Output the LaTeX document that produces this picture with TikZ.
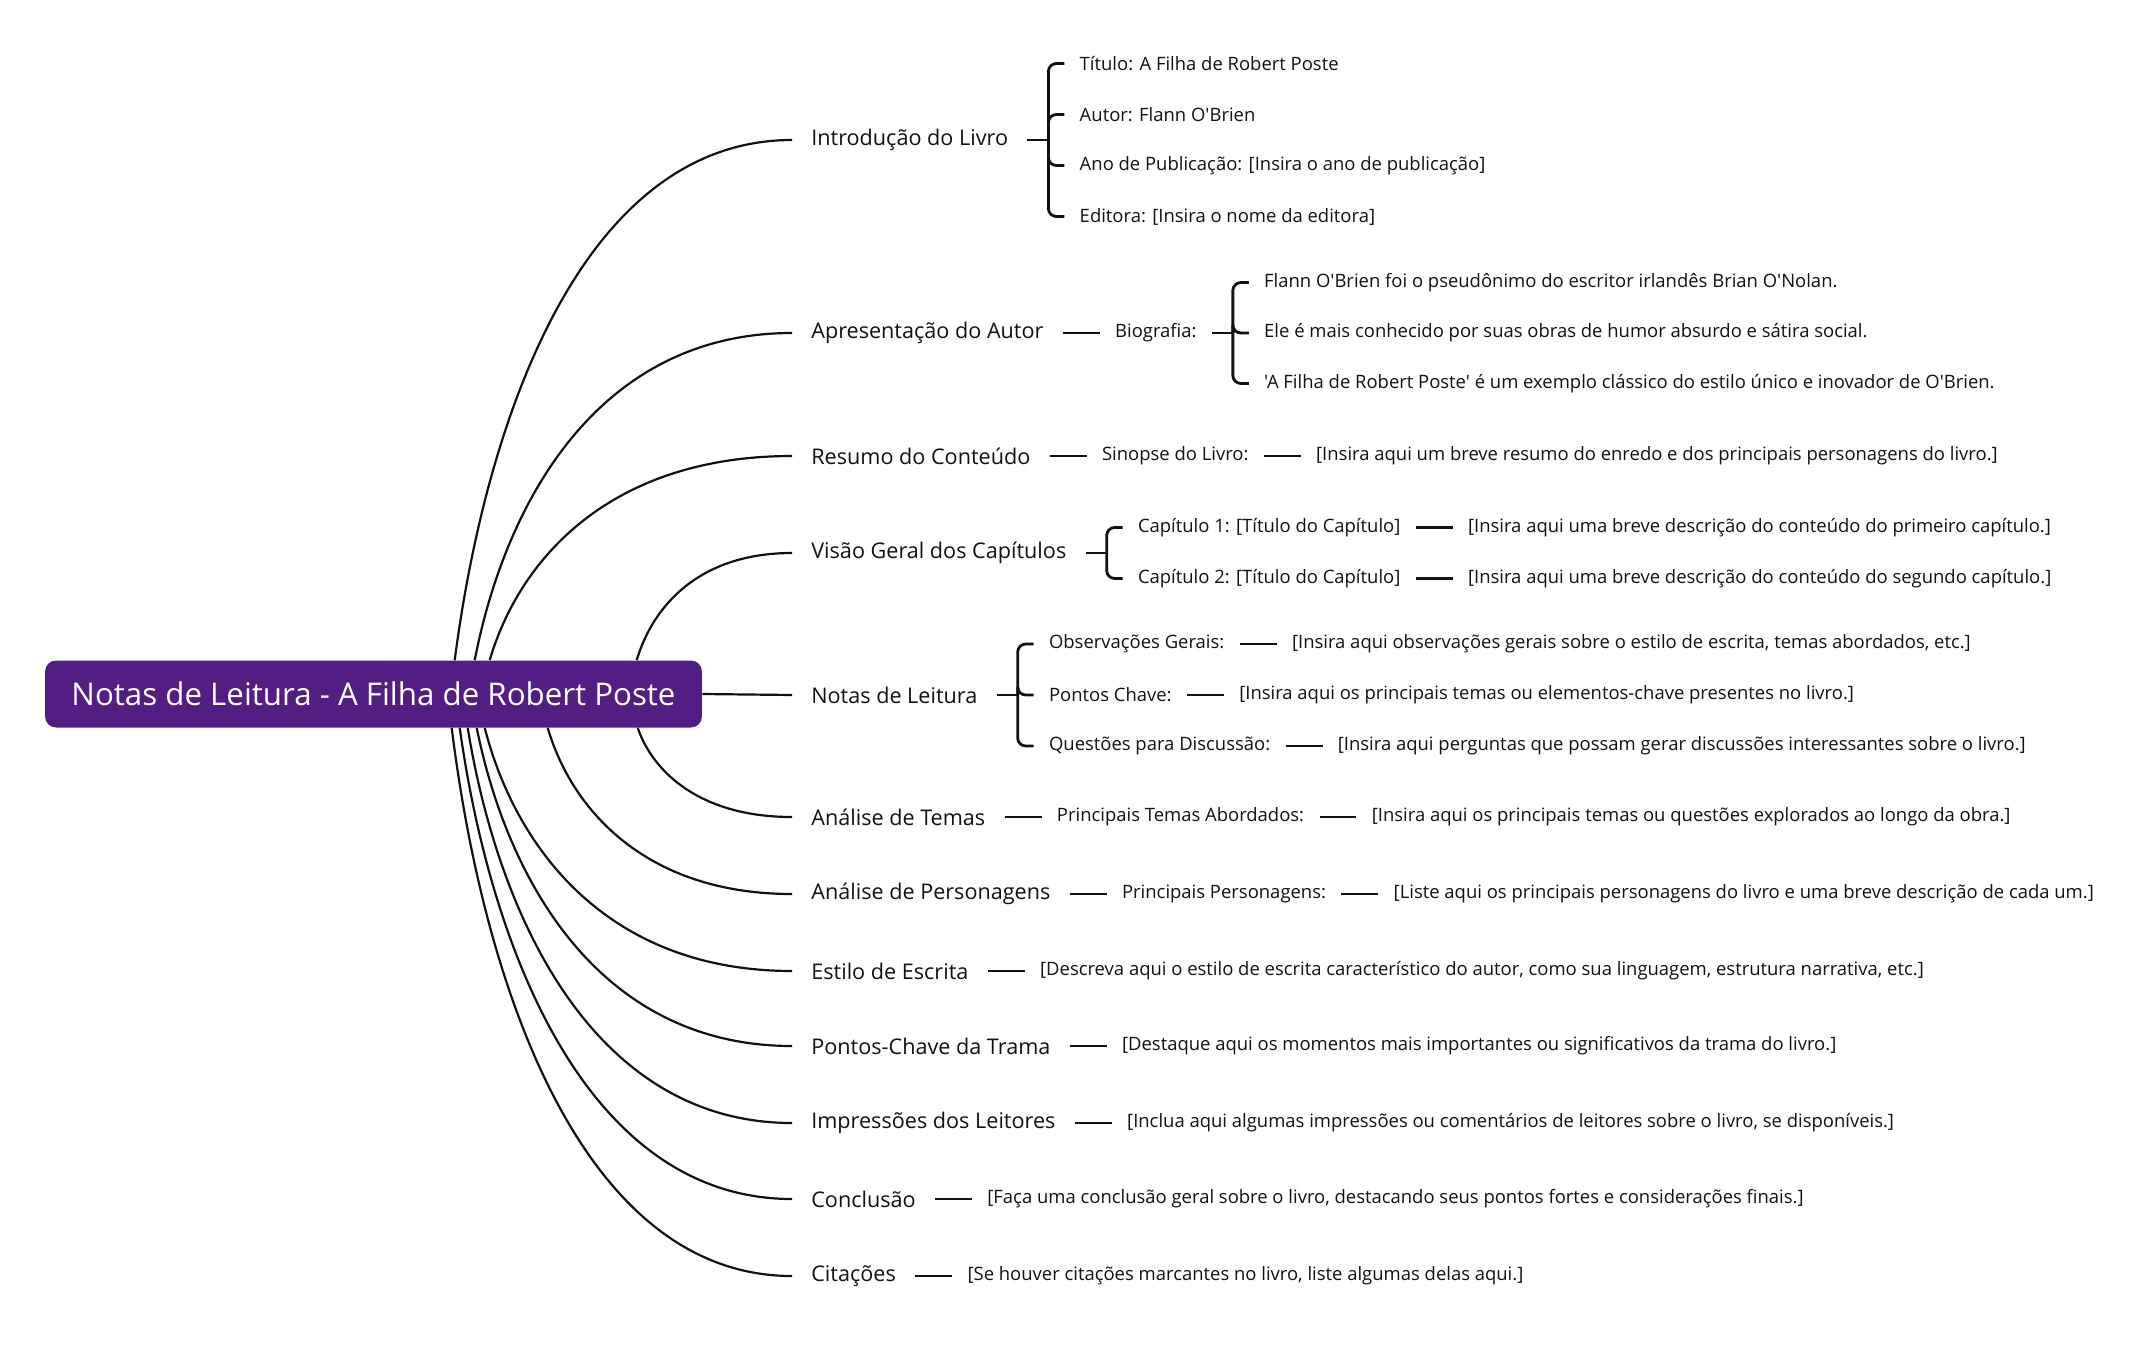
\documentclass[tikz,border=0pt]{standalone}
\usepackage{fontspec}
\setmainfont{Open Sans}[Ligatures=TeXOff]
\usepackage{tikz}
\usetikzlibrary{positioning, calc}
\definecolor{rootpurple}{HTML}{521E84}
\definecolor{inkblack}{HTML}{111111}

\begin{document}
\begin{tikzpicture}[
  x=0.02cm, y=-0.02cm,
  root/.style={rectangle, rounded corners=0.22cm, fill=rootpurple, text=white, minimum width=13.14cm, minimum height=1.34cm, font=\fontsize{17.8}{21}\selectfont},
  topic/.style={inner xsep=0.38cm, inner ysep=2pt, text=inkblack, font=\fontsize{12.3}{15}\selectfont},
  leaf/.style={inner xsep=0.3cm, inner ysep=2pt, text=inkblack, font=\fontsize{10.5}{13}\selectfont},
  branch/.style={line width=1.25pt, color=inkblack},
  link/.style={line width=1.6pt, color=inkblack},
  fork/.style={line width=1.6pt, color=inkblack, rounded corners=0.16cm},
  node distance=0.74cm,
]
\useasboundingbox (0,0) rectangle (2154,1359);

\node[root] (root) at (373.5,694) {Notas de Leitura - A Filha de Robert Poste};

% main topics
\node[topic, anchor=west] (intro) at (792,140) {Introdução do Livro};
\node[topic, anchor=west] (autor) at (792,333) {Apresentação do Autor};
\node[topic, anchor=west] (resumo) at (792,456) {Resumo do Conteúdo};
\node[topic, anchor=west] (capitulos) at (792,553) {Visão Geral dos Capítulos};
\node[topic, anchor=west] (notas) at (792,695) {Notas de Leitura};
\node[topic, anchor=west] (temas) at (792,817) {Análise de Temas};
\node[topic, anchor=west] (perso) at (792,894) {Análise de Personagens};
\node[topic, anchor=west] (estilo) at (792,971) {Estilo de Escrita};
\node[topic, anchor=west] (trama) at (792,1046) {Pontos-Chave da Trama};
\node[topic, anchor=west] (leitores) at (792,1123) {Impressões dos Leitores};
\node[topic, anchor=west] (conclusao) at (792,1199) {Conclusão};
\node[topic, anchor=west] (citacoes) at (792,1276) {Citações};

\draw[branch] ($(root.north west)+(410,0)$) .. controls +(34,-260) and +(-202,0) .. (intro.west);
\draw[branch] ($(root.north west)+(430,0)$) .. controls +(32,-164) and +(-190,0) .. (autor.west);
\draw[branch] ($(root.north west)+(445,0)$) .. controls +(30,-102) and +(-181,0) .. (resumo.west);
\draw[branch] ($(root.north west)+(592,0)$) .. controls +(16,-54) and +(-93,0) .. (capitulos.west);
\draw[branch] (root.east) -- (notas.west);
\draw[branch] ($(root.south west)+(593,0)$) .. controls +(15,44) and +(-92,0) .. (temas.west);
\draw[branch] ($(root.south west)+(503,0)$) .. controls +(24,82) and +(-146,0) .. (perso.west);
\draw[branch] ($(root.south west)+(440,0)$) .. controls +(31,121) and +(-184,0) .. (estilo.west);
\draw[branch] ($(root.south west)+(432,0)$) .. controls +(32,158) and +(-189,0) .. (trama.west);
\draw[branch] ($(root.south west)+(423,0)$) .. controls +(32,197) and +(-194,0) .. (leitores.west);
\draw[branch] ($(root.south west)+(415,0)$) .. controls +(33,235) and +(-199,0) .. (conclusao.west);
\draw[branch] ($(root.south west)+(407,0)$) .. controls +(34,274) and +(-204,0) .. (citacoes.west);

% Introdução do Livro
\node[leaf, right=of intro, yshift=1.53cm] (intro1) {Título: A Filha de Robert Poste};
\node[leaf, right=of intro, yshift=0.51cm] (intro2) {Autor: Flann O'Brien};
\node[leaf, right=of intro, yshift=-0.51cm] (intro3) {Ano de Publicação: [Insira o ano de publicação]};
\node[leaf, right=of intro, yshift=-1.53cm] (intro4) {Editora: [Insira o nome da editora]};
\draw[link] (intro.east) -- ++(21,0) coordinate (introfork);
\draw[fork] (introfork) |- (intro1.west);
\draw[fork] (introfork) |- (intro2.west);
\draw[fork] (introfork) |- (intro3.west);
\draw[fork] (introfork) |- (intro4.west);

% Apresentação do Autor
\node[leaf, right=of autor] (bio) {Biografia:};
\node[leaf, right=of bio, yshift=1.01cm] (bio1) {Flann O'Brien foi o pseudônimo do escritor irlandês Brian O'Nolan.};
\node[leaf, right=of bio] (bio2) {Ele é mais conhecido por suas obras de humor absurdo e sátira social.};
\node[leaf, right=of bio, yshift=-1.01cm] (bio3) {'A Filha de Robert Poste' é um exemplo clássico do estilo único e inovador de O'Brien.};
\draw[link] (autor.east) -- (bio.west);
\draw[link] (bio.east) -- ++(21,0) coordinate (biofork);
\draw[fork] (biofork) |- (bio1.west);
\draw[fork] (biofork) |- (bio2.west);
\draw[fork] (biofork) |- (bio3.west);

% Resumo do Conteúdo
\node[leaf, right=of resumo] (sinopse) {Sinopse do Livro:};
\node[leaf, right=of sinopse] (sinopse1) {[Insira aqui um breve resumo do enredo e dos principais personagens do livro.]};
\draw[link] (resumo.east) -- (sinopse.west);
\draw[link] (sinopse.east) -- (sinopse1.west);

% Visão Geral dos Capítulos
\node[leaf, right=of capitulos, yshift=0.51cm] (cap1) {Capítulo 1: [Título do Capítulo]};
\node[leaf, right=of capitulos, yshift=-0.51cm] (cap2) {Capítulo 2: [Título do Capítulo]};
\node[leaf, right=of cap1] (cap1d) {[Insira aqui uma breve descrição do conteúdo do primeiro capítulo.]};
\node[leaf, right=of cap2] (cap2d) {[Insira aqui uma breve descrição do conteúdo do segundo capítulo.]};
\draw[link] (capitulos.east) -- ++(21,0) coordinate (capfork);
\draw[fork] (capfork) |- (cap1.west);
\draw[fork] (capfork) |- (cap2.west);
\draw[link] (cap1.east) -- (cap1d.west);
\draw[link] (cap2.east) -- (cap2d.west);

% Notas de Leitura
\node[leaf, right=of notas, yshift=1.02cm] (obs) {Observações Gerais:};
\node[leaf, right=of notas] (chave) {Pontos Chave:};
\node[leaf, right=of notas, yshift=-1.02cm] (questoes) {Questões para Discussão:};
\node[leaf, right=of obs] (obsd) {[Insira aqui observações gerais sobre o estilo de escrita, temas abordados, etc.]};
\node[leaf, right=of chave] (chaved) {[Insira aqui os principais temas ou elementos-chave presentes no livro.]};
\node[leaf, right=of questoes] (questoesd) {[Insira aqui perguntas que possam gerar discussões interessantes sobre o livro.]};
\draw[link] (notas.east) -- ++(21,0) coordinate (notasfork);
\draw[fork] (notasfork) |- (obs.west);
\draw[fork] (notasfork) |- (chave.west);
\draw[fork] (notasfork) |- (questoes.west);
\draw[link] (obs.east) -- (obsd.west);
\draw[link] (chave.east) -- (chaved.west);
\draw[link] (questoes.east) -- (questoesd.west);

% remaining topics
\node[leaf, right=of temas] (temas1) {Principais Temas Abordados:};
\node[leaf, right=of temas1] (temas2) {[Insira aqui os principais temas ou questões explorados ao longo da obra.]};
\node[leaf, right=of perso] (perso1) {Principais Personagens:};
\node[leaf, right=of perso1] (perso2) {[Liste aqui os principais personagens do livro e uma breve descrição de cada um.]};
\node[leaf, right=of estilo] (estilo1) {[Descreva aqui o estilo de escrita característico do autor, como sua linguagem, estrutura narrativa, etc.]};
\node[leaf, right=of trama] (trama1) {[Destaque aqui os momentos mais importantes ou significativos da trama do livro.]};
\node[leaf, right=of leitores] (leitores1) {[Inclua aqui algumas impressões ou comentários de leitores sobre o livro, se disponíveis.]};
\node[leaf, right=of conclusao] (conclusao1) {[Faça uma conclusão geral sobre o livro, destacando seus pontos fortes e considerações finais.]};
\node[leaf, right=of citacoes] (citacoes1) {[Se houver citações marcantes no livro, liste algumas delas aqui.]};
\draw[link] (temas.east) -- (temas1.west);
\draw[link] (temas1.east) -- (temas2.west);
\draw[link] (perso.east) -- (perso1.west);
\draw[link] (perso1.east) -- (perso2.west);
\draw[link] (estilo.east) -- (estilo1.west);
\draw[link] (trama.east) -- (trama1.west);
\draw[link] (leitores.east) -- (leitores1.west);
\draw[link] (conclusao.east) -- (conclusao1.west);
\draw[link] (citacoes.east) -- (citacoes1.west);
\end{tikzpicture}
\end{document}
